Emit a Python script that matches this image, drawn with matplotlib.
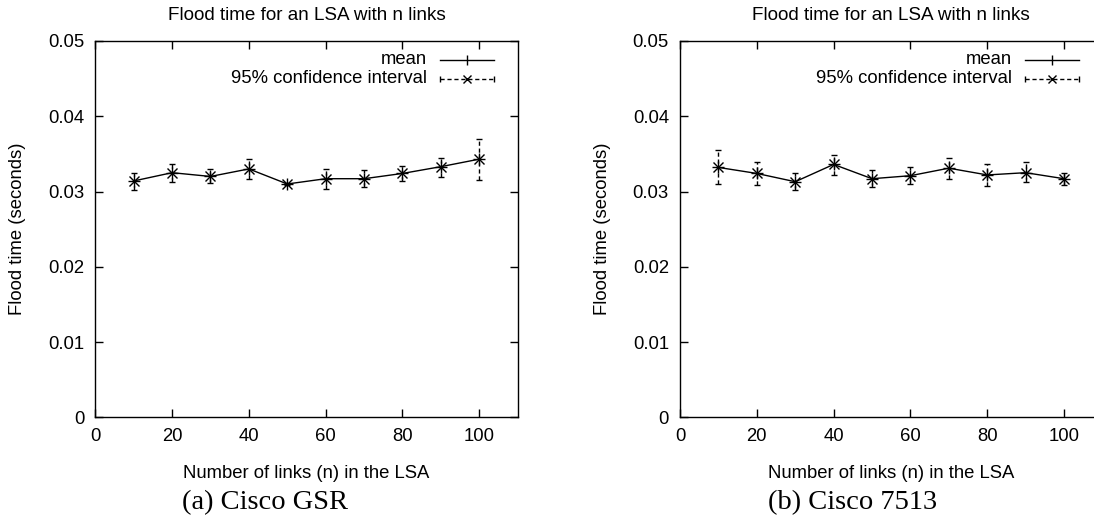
import matplotlib
matplotlib.use("Agg")
import matplotlib.pyplot as plt

## data
links = [10, 20, 30, 40, 50, 60, 70, 80, 90, 100]

gsr_mean = [0.0314, 0.0325, 0.0320, 0.0330, 0.0310, 0.0317, 0.0317, 0.0324, 0.0333, 0.0343]
gsr_lo = [0.0302, 0.0313, 0.0311, 0.0316, 0.0309, 0.0303, 0.0306, 0.0314, 0.0319, 0.0315]
gsr_hi = [0.0325, 0.0337, 0.0330, 0.0343, 0.0311, 0.0330, 0.0328, 0.0334, 0.0345, 0.0370]

c7513_mean = [0.0332, 0.0324, 0.0313, 0.0336, 0.0317, 0.0321, 0.0331, 0.0322, 0.0325, 0.0317]
c7513_lo = [0.0310, 0.0308, 0.0302, 0.0322, 0.0306, 0.0310, 0.0317, 0.0307, 0.0312, 0.0309]
c7513_hi = [0.0355, 0.0339, 0.0325, 0.0348, 0.0329, 0.0333, 0.0345, 0.0336, 0.0339, 0.0325]

xticks = [0, 20, 40, 60, 80, 100]
yticks = [0, 0.01, 0.02, 0.03, 0.04, 0.05]
ylabels = ['0', '0.01', '0.02', '0.03', '0.04', '0.05']

plt.rcParams['font.family'] = ['Liberation Sans', 'DejaVu Sans']
plt.rcParams['font.size'] = 13.3

fig = plt.figure(figsize=(10.94, 5.18), dpi=100)
ax1 = fig.add_axes([0.0871, 0.1944, 0.3861, 0.7265])
ax2 = fig.add_axes([0.6216, 0.1944, 0.3861, 0.7265])


def panel(ax, mean, lo, hi):
    yerr = [[m - l for m, l in zip(mean, lo)], [h - m for m, h in zip(mean, hi)]]
    eb = ax.errorbar(links, mean, yerr=yerr, fmt='none', ecolor='black',
                     elinewidth=1, capsize=2.5, capthick=1)
    eb[2][0].set_linestyle((0, (3, 2)))
    ax.plot(links, mean, color='black', lw=1, marker='+', ms=9, mew=1)
    ax.plot(links, mean, ls='none', color='black', marker='x', ms=7, mew=1)

    ax.set_xlim(0, 110)
    ax.set_ylim(0, 0.05)
    ax.set_xticks(xticks)
    ax.set_yticks(yticks)
    ax.set_yticklabels(ylabels)
    ax.tick_params(direction='in', top=True, right=True, length=6, width=1, pad=8)
    for s in ax.spines.values():
        s.set_linewidth(1)
    ax.set_title('Flood time for an LSA with n links', pad=15, fontsize=13.6)
    ax.set_xlabel('Number of links (n) in the LSA')
    ax.set_ylabel('Flood time (seconds)')
    ax.xaxis.set_label_coords(0.5, -0.127)
    ax.yaxis.set_label_coords(-0.163, 0.5)

    # gnuplot style key, text right aligned
    tr = ax.transAxes
    ax.text(0.786, 0.9495, 'mean', transform=tr, ha='right', va='center')
    ax.plot([0.817, 0.945], [0.9495, 0.9495], transform=tr, color='black', lw=1)
    ax.plot([0.881], [0.9495], transform=tr, color='black', marker='|', ms=7, mew=1)
    ax.text(0.786, 0.899, '95% confidence interval', transform=tr, ha='right', va='center')
    ax.plot([0.817, 0.945], [0.899, 0.899], transform=tr, color='black', lw=1, ls=(0, (3, 2)))
    ax.plot([0.817, 0.945], [0.899, 0.899], transform=tr, ls='none', color='black',
            marker='|', ms=5, mew=1)
    ax.plot([0.881], [0.899], transform=tr, color='black', marker='x', ms=6, mew=1)


panel(ax1, gsr_mean, gsr_lo, gsr_hi)
panel(ax2, c7513_mean, c7513_lo, c7513_hi)

fig.text(182 / 1094, 0.029, '(a) Cisco GSR', family='Liberation Serif', fontsize=20.5,
         ha='left', va='center')
fig.text(768 / 1094, 0.029, '(b) Cisco 7513', family='Liberation Serif', fontsize=20.5,
         ha='left', va='center')

fig.savefig('out.png', dpi=100)
